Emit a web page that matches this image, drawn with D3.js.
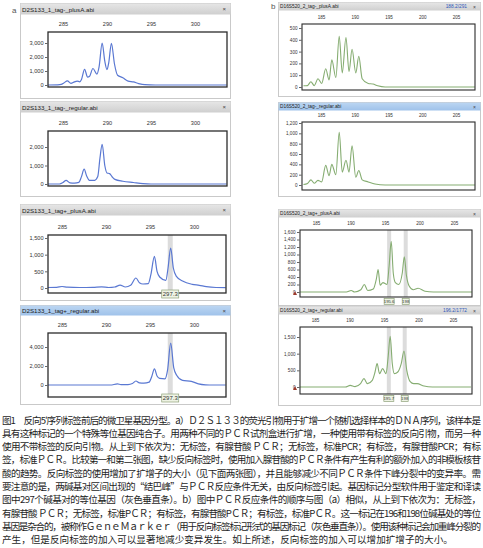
<!DOCTYPE html>
<html>
<head>
<meta charset="utf-8">
<script src="https://cdn.jsdelivr.net/npm/d3@7/dist/d3.min.js"></script>
<style>
  html, body { margin: 0; padding: 0; background: #fff; }
  svg { display: block; }
</style>
</head>
<body>
<svg id="fig" width="483" height="548"></svg>
<script>
// ---- electropherogram traces: [fragment size (bp), signal (RFU)] ----
const d2s133TagMinusPlusA = [
  [283.3, 0], [284.4, 10], [284.8, 40], [285.1, 150], [285.5, 290], [285.9, 110],
  [286.3, 220], [286.6, 280], [286.9, 230], [287.1, 400], [287.45, 1120], [287.8, 560],
  [288.0, 600], [288.4, 1180], [288.85, 780], [289.1, 1300], [289.45, 3000], [289.75, 1700],
  [290.0, 1100], [290.2, 1600], [290.5, 2980], [290.85, 1500], [291.2, 700], [291.8, 520],
  [292.4, 280], [293.0, 220], [293.6, 100], [294.3, 20], [295.5, 0], [303.6, 0]
];
const d2s133TagMinusRegular = [
  [283.3, 0], [284.6, 0], [285.0, 80], [285.35, 200], [285.8, 60], [286.3, 50],
  [286.8, 90], [287.1, 400], [287.4, 800], [287.7, 420], [288.0, 200], [288.6, 200],
  [288.95, 400], [289.2, 1400], [289.45, 2150], [289.75, 1000], [290.0, 600],
  [290.3, 560], [290.6, 380], [290.9, 250], [291.8, 150], [293.0, 80], [294.1, 20],
  [295.0, 0], [303.6, 0]
];
const d2s133TagPlusPlusA = [
  [283.3, 15], [284.4, 20], [285.0, 45], [285.6, 25], [287.0, 15], [288.5, 20],
  [289.5, 35], [290.3, 15], [291.0, 30], [291.6, 85], [292.2, 30], [292.8, 80],
  [293.4, 300], [293.8, 160], [294.2, 120], [294.8, 130], [295.1, 400], [295.5, 950],
  [295.8, 500], [296.1, 330], [296.8, 230], [297.05, 600], [297.35, 1200], [297.65, 600],
  [298.0, 350], [298.7, 210], [299.8, 110], [300.6, 80], [301.4, 40], [302.5, 15], [303.6, 10]
];
const d2s133TagPlusRegular = [
  [283.3, 0], [290.5, 0], [291.3, 110], [291.7, 40], [292.5, 40], [293.0, 150],
  [293.4, 420], [293.8, 230], [294.3, 200], [294.9, 300], [295.2, 900], [295.5, 1700],
  [295.8, 950], [296.1, 700], [296.7, 650], [297.0, 1600], [297.35, 4400], [297.7, 1800],
  [298.05, 1000], [298.7, 480], [299.7, 380], [300.5, 120], [301.3, 20], [302.2, 0], [303.6, 0]
];
const d16s520TagMinusPlusA = [
  [182.4, 10], [183.0, 12], [183.5, 45], [184.0, 12], [184.55, 70], [185.1, 30],
  [185.7, 155], [186.2, 60], [186.6, 230], [187.2, 80], [187.7, 430], [188.15, 120],
  [188.7, 420], [189.15, 130], [189.6, 320], [190.15, 120], [190.6, 260], [191.1, 70],
  [192.0, 30], [192.7, 25], [193.4, 10], [194.5, 0], [207.8, 0]
];
const d16s520TagMinusRegular = [
  [182.4, 10], [183.0, 30], [183.5, 100], [184.0, 35], [184.55, 90], [185.1, 60],
  [185.7, 380], [186.2, 180], [186.6, 400], [187.2, 200], [187.7, 1020], [188.15, 250],
  [188.7, 480], [189.15, 250], [189.6, 760], [190.15, 150], [190.6, 280], [191.1, 100],
  [192.0, 60], [193.0, 20], [194.5, 0], [207.8, 0]
];
const d16s520TagPlusPlusA = [
  [182.7, 0], [189.4, 0], [190.1, 40], [190.6, 0], [191.5, 60], [192.0, 200],
  [192.5, 40], [193.3, 80], [193.75, 350], [194.0, 600], [194.3, 180], [194.7, 250],
  [195.3, 200], [195.6, 700], [195.9, 1350], [196.2, 500], [196.5, 250], [197.0, 200],
  [197.5, 500], [197.8, 940], [198.1, 450], [198.5, 160], [199.1, 60], [199.8, 100],
  [200.8, 20], [202.0, 0], [207.6, 0]
];
const d16s520TagPlusRegular = [
  [182.7, 0], [189.4, 0], [190.1, 50], [190.8, 10], [191.6, 100], [192.1, 250],
  [192.6, 100], [193.3, 200], [193.7, 450], [194.0, 700], [194.35, 400], [194.8, 550],
  [195.3, 400], [195.6, 900], [195.9, 1520], [196.2, 700], [196.5, 400], [197.0, 450],
  [197.5, 700], [197.9, 1080], [198.3, 500], [198.8, 160], [199.3, 100], [199.8, 100],
  [200.8, 30], [202.0, 0], [207.6, 0]
];

// ---- window titles, status readouts and axis ticks ----
const titlesA = ["D2S133_1_tag-_plusA.abi", "D2S133_1_tag-_regular.abi",
                 "D2S133_1_tag+_plusA.abi", "D2S133_1_tag+_regular.abi"];
const titlesB = ["D16S520_2_tag-_plusA.abi", "D16S520_2_tag-_regular.abi",
                 "D16S520_2_tag+_plusA.abi", "D16S520_2_tag+_regular.abi"];
const readoutsB = ["188.2/291", "", "", "196.2/1772"];
const sizeTicksA = [285, 290, 295, 300];
const sizeTicksB = [185, 190, 195, 200, 205];
const rfuTicksA = [[0, 1000, 2000, 3000], [0, 1000, 2000], [0, 500, 1000, 1500], [0, 2000, 4000]];
const rfuTicksB = [[0, 100, 200, 300, 400, 500], [0, 200, 400, 600, 800, 1000, 1200],
                   [0, 200, 400, 600, 800, 1000, 1200, 1400, 1600], [0, 500, 1000, 1500]];
// called alleles (grey bins) per panel
const allelesA = [[], [], [297.3], [297.3]];
const allelesB = [[], [], [195.6, 198], [195.7, 198]];

// ---- figure legend (one entry per printed line) ----
const captionLines = [
  "图1　反向5′序列标签前后的微卫星基因分型。a）Ｄ２Ｓ１３３的荧光引物用于扩增一个随机选择样本的ＤＮＡ序列，该样本是",
  "具有这种标记的一个特殊等位基因纯合子。用两种不同的ＰＣＲ试剂盒进行扩增，一种使用带有标签的反向引物，而另一种",
  "使用不带标签的反向引物。从上到下依次为：无标签，有腺苷酸 ＰＣＲ；无标签，标准PCR；有标签，有腺苷酸PCR；有标",
  "签，标准ＰＣＲ。比较第一和第二张图，缺少反向标签时，使用加入腺苷酸的ＰＣＲ条件有产生有利的额外加入的非模板核苷",
  "酸的趋势。反向标签的使用增加了扩增子的大小（见下面两张图），并且能够减少不同ＰＣＲ条件下峰分裂中的变异率。需",
  "要注意的是，两碱基对区间出现的“结巴峰”与ＰＣＲ反应条件无关，由反向标签引起。基因标记分型软件用于鉴定和译读",
  "图中297个碱基对的等位基因（灰色垂直条）。b）图中ＰＣＲ反应条件的顺序与图（a）相似，从上到下依次为：无标签，",
  "有腺苷酸 ＰＣＲ；无标签，标准PＣＲ；有标签，有腺苷酸PＣＲ；有标签，标准PＣＲ。这一标记在196和198位碱基处的等位",
  "基因是杂合的，被称作Ｇｅｎｅ Ｍａｒｋｅｒ（用于反向标签标记形式的基因标记（灰色垂直条））。使用该种标记会加重峰分裂的",
  "产生，但是反向标签的加入可以显著地减少变异发生。如上所述，反向标签的加入可以增加扩增子的大小。"
];

const svg = d3.select("#fig");
const defs = svg.append("defs");
const gradGrey = defs.append("linearGradient").attr("id", "barGrey").attr("x1", 0).attr("y1", 0).attr("x2", 0).attr("y2", 1);
gradGrey.append("stop").attr("offset", "0%").attr("stop-color", "#e6e6e6");
gradGrey.append("stop").attr("offset", "100%").attr("stop-color", "#cfcfcf");
const gradBlue = defs.append("linearGradient").attr("id", "barBlue").attr("x1", 0).attr("y1", 0).attr("x2", 0).attr("y2", 1);
gradBlue.append("stop").attr("offset", "0%").attr("stop-color", "#bcd6f2");
gradBlue.append("stop").attr("offset", "100%").attr("stop-color", "#9fc2ea");

const FONT = "Arial, 'Liberation Sans', sans-serif";

// panel geometry (window frame, plot box, reference pixels for the scales)
const panels = [
  // column a
  { frame: [20, 230, 3, 98], titleH: 11, active: false, title: titlesA[0], info: "",
    box: [48, 227, 32, 87], xRef: [285, 63, 300, 195], yRef: [0, 85, 3000, 43],
    data: d2s133TagMinusPlusA, yt: rfuTicksA[0], xt: sizeTicksA, alleles: allelesA[0], col: "a", fs: 5.6 },
  { frame: [20, 230, 101, 196], titleH: 11, active: false, title: titlesA[1], info: "",
    box: [48, 227, 131, 186], xRef: [285, 63, 300, 195], yRef: [0, 184, 2000, 147],
    data: d2s133TagMinusRegular, yt: rfuTicksA[1], xt: sizeTicksA, alleles: allelesA[1], col: "a", fs: 5.6 },
  { frame: [20, 230, 204, 300], titleH: 11, active: false, title: titlesA[2], info: "",
    box: [48, 226, 235, 293], xRef: [285, 62, 300, 194], yRef: [0, 288, 1500, 238],
    data: d2s133TagPlusPlusA, yt: rfuTicksA[2], xt: sizeTicksA, alleles: allelesA[2], col: "a", fs: 5.6 },
  { frame: [20, 230, 305, 404], titleH: 10, active: true, title: titlesA[3], info: "",
    box: [48, 226, 333, 397], xRef: [285, 62, 300, 194], yRef: [0, 385, 4000, 347],
    data: d2s133TagPlusRegular, yt: rfuTicksA[3], xt: sizeTicksA, alleles: allelesA[3], col: "a", fs: 5.6 },
  // column b
  { frame: [278, 480, 2, 96], titleH: 8, active: false, title: titlesB[0], info: readoutsB[0],
    box: [302, 475, 24, 90], xRef: [185, 321, 205, 456], yRef: [0, 87, 500, 28],
    data: d16s520TagMinusPlusA, yt: rfuTicksB[0], xt: sizeTicksB, alleles: allelesB[0], col: "b", fs: 4.6 },
  { frame: [278, 480, 102, 196], titleH: 8, active: true, title: titlesB[1], info: readoutsB[1],
    box: [302, 475, 122, 190], xRef: [185, 321, 205, 456], yRef: [0, 185, 1200, 123],
    data: d16s520TagMinusRegular, yt: rfuTicksB[1], xt: sizeTicksB, alleles: allelesB[1], col: "b", fs: 4.6 },
  { frame: [278, 480, 209, 305], titleH: 8, active: false, title: titlesB[2], info: readoutsB[2],
    box: [300, 472, 230, 297], xRef: [185, 316, 205, 454], yRef: [0, 292, 1600, 232],
    data: d16s520TagPlusPlusA, yt: rfuTicksB[2], xt: sizeTicksB, alleles: allelesB[2], col: "b", fs: 4.6, flag: true },
  { frame: [278, 480, 306, 405], titleH: 8, active: false, title: titlesB[3], info: readoutsB[3],
    box: [300, 472, 327, 394], xRef: [185, 315, 205, 453], yRef: [0, 387, 1500, 337],
    data: d16s520TagPlusRegular, yt: rfuTicksB[3], xt: sizeTicksB, alleles: allelesB[3], col: "b", fs: 4.6, flag: true }
];

panels.forEach((p, i) => {
  const [fx0, fx1, fy0, fy1] = p.frame;
  const [bl, br, bt, bb] = p.box;
  const g = svg.append("g");
  const lineColour = p.col === "a" ? "#5a78d2" : "#86ad72";

  // window frame
  g.append("rect").attr("x", fx0 + 0.5).attr("y", fy0 + 0.5)
    .attr("width", fx1 - fx0).attr("height", fy1 - fy0)
    .attr("fill", "#fff").attr("stroke", "#c9c9c9").attr("stroke-width", 1);
  // title bar
  g.append("rect").attr("x", fx0 + 0.5).attr("y", fy0 + 0.5)
    .attr("width", fx1 - fx0).attr("height", p.titleH)
    .attr("fill", p.active ? "url(#barBlue)" : "url(#barGrey)");
  g.append("text").attr("x", fx0 + 2).attr("y", fy0 + p.titleH / 2 + 0.5)
    .attr("dominant-baseline", "central").attr("font-family", FONT)
    .attr("font-size", p.col === "a" ? 6.2 : 4.8).attr("fill", "#222").text(p.title);
  g.append("text").attr("x", fx1 - 4).attr("y", fy0 + p.titleH / 2 + 0.5)
    .attr("dominant-baseline", "central").attr("text-anchor", "end").attr("font-family", FONT)
    .attr("font-size", p.col === "a" ? 6 : 5).attr("fill", "#444").text("×");
  if (p.info) {
    g.append("text").attr("x", fx1 - 13).attr("y", fy0 + p.titleH / 2 + 0.5)
      .attr("dominant-baseline", "central").attr("text-anchor", "end").attr("font-family", FONT)
      .attr("font-size", 4.8).attr("fill", "#2d56b8").text(p.info);
  }

  // scales
  const x = d3.scaleLinear().domain([p.xRef[0], p.xRef[2]]).range([p.xRef[1], p.xRef[3]]);
  const y = d3.scaleLinear().domain([p.yRef[0], p.yRef[2]]).range([p.yRef[1], p.yRef[3]]);

  const clipId = "clip" + i;
  defs.append("clipPath").attr("id", clipId).append("rect")
    .attr("x", bl).attr("y", bt).attr("width", br - bl).attr("height", bb - bt);

  // allele bins
  g.append("g").attr("clip-path", `url(#${clipId})`).selectAll("rect")
    .data(p.alleles).join("rect")
    .attr("x", d => x(d) - (p.col === "a" ? 2.5 : 2))
    .attr("y", bt).attr("width", p.col === "a" ? 5 : 4).attr("height", bb - bt)
    .attr("fill", "#dcdcdc");

  // trace
  const line = d3.line().x(d => x(d[0])).y(d => y(d[1])).curve(d3.curveMonotoneX);
  g.append("path").datum(p.data).attr("clip-path", `url(#${clipId})`)
    .attr("d", line).attr("fill", "none").attr("stroke", lineColour)
    .attr("stroke-width", p.col === "a" ? 1.2 : 1.1).attr("stroke-linejoin", "round");

  // plot box
  g.append("rect").attr("x", bl).attr("y", bt).attr("width", br - bl).attr("height", bb - bt)
    .attr("fill", "none").attr("stroke", "#2b2b2b").attr("stroke-width", p.col === "a" ? 1.3 : 1.1);

  // size axis (top)
  const xAxis = d3.axisTop(x).tickValues(p.xt).tickSize(0).tickPadding(p.col === "a" ? 6 : 5).tickFormat(d3.format("d"));
  const gx = g.append("g").attr("transform", `translate(0,${bt})`).call(xAxis);
  gx.select(".domain").remove();
  gx.selectAll("text").attr("font-family", FONT).attr("font-size", p.fs).attr("fill", "#333");

  // signal axis (left)
  const yAxis = d3.axisLeft(y).tickValues(p.yt).tickSize(3).tickPadding(1.5).tickFormat(d3.format(","));
  const gy = g.append("g").attr("transform", `translate(${bl},0)`).call(yAxis);
  gy.select(".domain").remove();
  gy.selectAll("line").attr("stroke", "#666");
  gy.selectAll("text").attr("font-family", FONT).attr("font-size", p.fs).attr("fill", "#333");

  // zero-level flag
  if (p.flag) {
    const y0 = y(0);
    g.append("path")
      .attr("d", `M${bl - 7},${y0 + 3} L${bl - 5},${y0 - 1} L${bl - 3},${y0 + 3} Z`)
      .attr("fill", "#9b3a2e");
  }

  // allele call labels
  const lab = g.append("g").selectAll("g").data(p.alleles).join("g");
  const lw = p.col === "a" ? 17 : (d => String(d).length > 3 ? 10 : 7);
  lab.append("rect")
    .attr("x", d => x(d) - (typeof lw === "function" ? lw(d) : lw) / 2)
    .attr("y", p.col === "a" ? bb - 3 : bb + 1.5)
    .attr("width", d => (typeof lw === "function" ? lw(d) : lw))
    .attr("height", p.col === "a" ? 8 : 6)
    .attr("fill", "#eef3e4").attr("stroke", "#8fa27a").attr("stroke-width", 0.7);
  lab.append("text")
    .attr("x", d => x(d)).attr("y", p.col === "a" ? bb + 1 : bb + 4.5)
    .attr("text-anchor", "middle").attr("dominant-baseline", "central")
    .attr("font-family", FONT).attr("font-size", p.col === "a" ? 6 : 4.3).attr("fill", "#333")
    .text(d => d);
});

// column letters
svg.append("text").attr("x", 12).attr("y", 13).attr("font-family", FONT)
  .attr("font-size", 8).attr("fill", "#555").text("a");
svg.append("text").attr("x", 271).attr("y", 9).attr("font-family", FONT)
  .attr("font-size", 8).attr("fill", "#555").text("b");

// figure legend
const cap = svg.append("g").attr("font-family", "'Noto Sans CJK SC', sans-serif")
  .attr("font-size", 9.6).attr("fill", "#1e1e1e");
cap.selectAll("text").data(captionLines).join("text")
  .attr("x", 2)
  .attr("y", (d, i) => 423.5 + i * 13.3)
  .attr("textLength", (d, i) => i < captionLines.length - 1 ? 479 : null)
  .attr("lengthAdjust", "spacing")
  .text(d => d);
</script>
</body>
</html>
